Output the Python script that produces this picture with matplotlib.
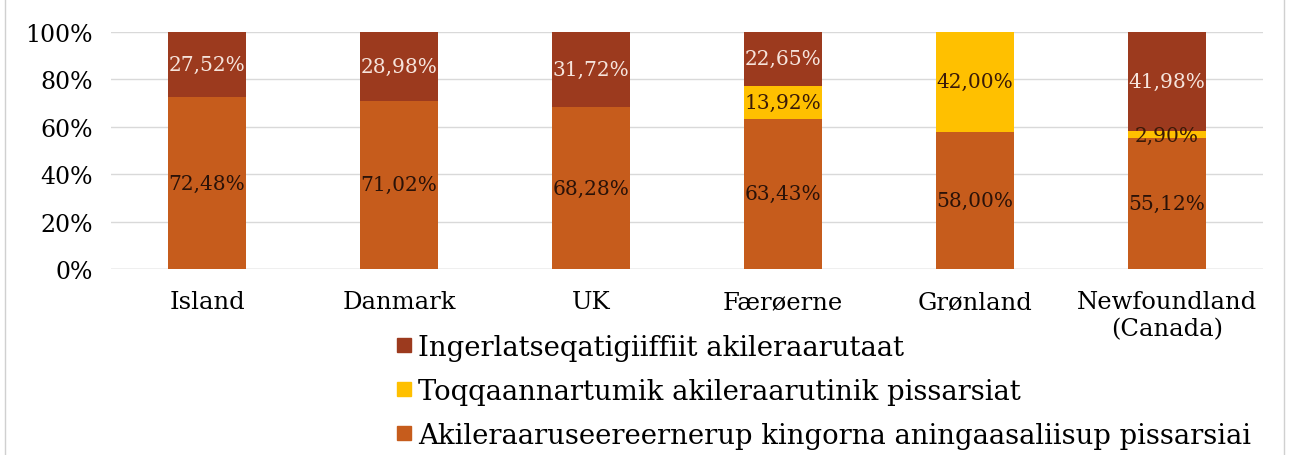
import matplotlib.pyplot as plt
import numpy as np
from matplotlib.patches import Rectangle
from matplotlib.lines import Line2D

plt.rcParams['font.family'] = ['DejaVu Serif']

countries = ['Island', 'Danmark', 'UK', 'Færøerne', 'Grønland', 'Newfoundland\n(Canada)']
efter_skat = [72.48, 71.02, 68.28, 63.43, 58.00, 55.12]
direkte = [0.0, 0.0, 0.0, 13.92, 42.00, 2.90]
indirekte = [27.52, 28.98, 31.72, 22.65, 0.0, 41.98]

names = ['Ingerlatseqatigiiffiit akileraarutaat',
         'Toqqaannartumik akileraarutinik pissarsiat',
         'Akileraaruseereernerup kingorna aningaasaliisup pissarsiai']

c_bottom = '#c65c1c'
c_mid = '#ffc000'
c_top = '#9c3a1e'


def pct(v):
    return f"{v:.2f}".replace('.', ',') + '%'


fig = plt.figure(figsize=(12.89, 4.56), dpi=100)
ax = fig.add_axes([111 / 1289, 1 - 270 / 456, 1152 / 1289, 237 / 456])

x = np.arange(len(countries))
w = 0.41
ax.bar(x, efter_skat, w, color=c_bottom, zorder=3)
bottom2 = np.array(efter_skat)
ax.bar(x, direkte, w, bottom=bottom2, color=c_mid, zorder=3)
bottom3 = bottom2 + np.array(direkte)
ax.bar(x, indirekte, w, bottom=bottom3, color=c_top, zorder=3)

for i in range(len(countries)):
    if efter_skat[i] > 0:
        ax.text(x[i], efter_skat[i] / 2, pct(efter_skat[i]), ha='center', va='center',
                fontsize=14.5, color='#2a1208', zorder=4)
    if direkte[i] > 0:
        ax.text(x[i], bottom2[i] + direkte[i] / 2, pct(direkte[i]), ha='center', va='center',
                fontsize=14.5, color='#3a1a08', zorder=4)
    if indirekte[i] > 0:
        ax.text(x[i], bottom3[i] + indirekte[i] / 2, pct(indirekte[i]), ha='center', va='center',
                fontsize=14.5, color='#f6e4dc', zorder=4)

ax.set_xlim(-0.5, len(countries) - 0.5)
ax.set_ylim(0, 100)
ax.set_yticks(np.arange(0, 101, 20))
ax.set_yticklabels([f"{v}%" for v in range(0, 101, 20)], fontsize=17)
ax.set_xticks(x)
ax.set_xticklabels(countries, fontsize=17.5, linespacing=1.25)
ax.tick_params(axis='x', length=0, pad=15)
ax.tick_params(axis='y', length=0, pad=13)
ax.grid(axis='y', color='#d9d9d9', linewidth=1, zorder=0)
for s in ax.spines.values():
    s.set_visible(False)
ax.axhline(0, color='#d0d0d0', linewidth=1, zorder=2)

handles = [Line2D([], [], marker='s', linestyle='', markersize=10, color=c_top),
           Line2D([], [], marker='s', linestyle='', markersize=10, color=c_mid),
           Line2D([], [], marker='s', linestyle='', markersize=10, color=c_bottom)]
fig.legend(handles, names, loc='upper left', bbox_to_anchor=(396 / 1289, 1 - 335 / 456),
           frameon=False, fontsize=19.8, handlelength=0.55, handletextpad=0.25,
           labelspacing=0.62, borderpad=0, borderaxespad=0)

# chart border
fig.patches.append(Rectangle((5 / 1289, -0.01), 1279 / 1289, 1.05, transform=fig.transFigure,
                             fill=False, edgecolor='#d0d0d0', linewidth=1))

fig.savefig('out.png', dpi=100)
